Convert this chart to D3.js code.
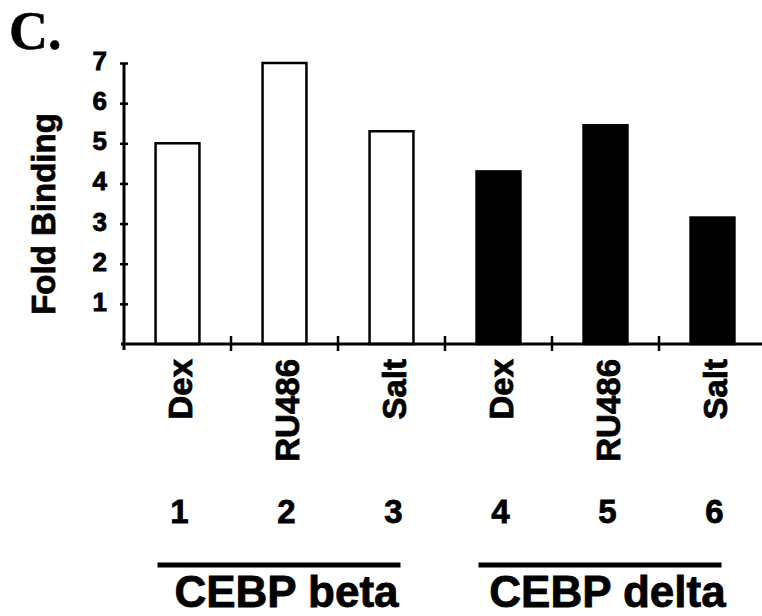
<!DOCTYPE html>
<html>
<head>
<meta charset="utf-8">
<script src="https://cdn.jsdelivr.net/npm/d3@7"></script>
<style>
  body { margin: 0; background: #fff; }
  svg { display: block; }
  text { font-family: "Liberation Sans", Arial, sans-serif; font-weight: bold; fill: #000; stroke: #000; stroke-width: 0.8px; }
</style>
</head>
<body>
<div id="chart"></div>
<script>
// data
const lanes = ["1", "2", "3", "4", "5", "6"];
const treatments = ["Dex", "RU486", "Salt", "Dex", "RU486", "Salt"];
const foldBinding = [5.0, 7.0, 5.3, 4.3, 5.45, 3.15];
const filled = [false, false, false, true, true, true];
const groups = ["CEBP beta", "CEBP delta"];
const groupLanes = [["1", "3"], ["4", "6"]];
const yTicks = [1, 2, 3, 4, 5, 6, 7];

const W = 762, H = 616;
const svg = d3.select("#chart").append("svg").attr("width", W).attr("height", H);

const x = d3.scaleBand().domain(lanes).range([124, 766]).paddingInner(0.59).paddingOuter(0.295);
const y = d3.scaleLinear().domain([0, 7]).range([344, 63]);
const step = x.step();
const cx = d => x(d) + x.bandwidth() / 2;

// panel letter
svg.append("text")
    .attr("x", 9).attr("y", 49)
    .style("font-family", "'Liberation Serif', 'Times New Roman', serif")
    .style("font-size", "54px")
    .style("stroke-width", "0.5px")
    .text("C.");

// bars
svg.append("g").selectAll("rect").data(lanes).enter().append("rect")
    .attr("x", d => x(d))
    .attr("width", x.bandwidth())
    .attr("y", (d, i) => y(foldBinding[i]))
    .attr("height", (d, i) => y(0) - y(foldBinding[i]))
    .attr("fill", (d, i) => filled[i] ? "#000" : "#fff")
    .attr("stroke", "#000").attr("stroke-width", 2.5);

// y axis
const yAxis = svg.append("g").attr("transform", "translate(124,0)")
    .call(d3.axisLeft(y).tickValues(yTicks).tickFormat(d3.format("d")).tickSize(4).tickPadding(13));
yAxis.select(".domain").remove();
yAxis.selectAll(".tick line").attr("x1", 4).attr("stroke-width", 2.5);
yAxis.selectAll(".tick text").style("font-size", "26px").attr("dy", "0.25em")
    .style("font-family", "'Liberation Sans', Arial, sans-serif");
yAxis.append("line")
    .attr("x1", 0).attr("x2", 0).attr("y1", y(7)).attr("y2", y(0) + 6)
    .attr("stroke", "#000").attr("stroke-width", 3);

// x axis baseline and lane separators
svg.append("line")
    .attr("x1", 121).attr("x2", W).attr("y1", y(0)).attr("y2", y(0))
    .attr("stroke", "#000").attr("stroke-width", 3);
svg.append("g").selectAll("line").data(lanes.slice(1)).enter().append("line")
    .attr("x1", d => cx(d) - step / 2).attr("x2", d => cx(d) - step / 2)
    .attr("y1", y(0) - 8).attr("y2", y(0) + 7)
    .attr("stroke", "#000").attr("stroke-width", 2.5);

// y title
svg.append("text")
    .attr("transform", "translate(55,214) rotate(-90)")
    .attr("text-anchor", "middle")
    .style("font-size", "33px")
    .text("Fold Binding");

// treatment labels
svg.append("g").selectAll("text").data(lanes).enter().append("text")
    .attr("transform", d => `translate(${cx(d) + 14},359) rotate(-90)`)
    .attr("text-anchor", "end")
    .style("font-size", "33px")
    .text((d, i) => treatments[i]);

// lane numbers
svg.append("g").selectAll("text").data(lanes).enter().append("text")
    .attr("x", d => cx(d) + 2).attr("y", 523)
    .attr("text-anchor", "middle")
    .style("font-size", "33px")
    .text(d => d);

// group bars + names
groups.forEach((g, i) => {
    const a = cx(groupLanes[i][0]), b = cx(groupLanes[i][1]);
    svg.append("line")
        .attr("x1", a - 20).attr("x2", b + 9).attr("y1", 565).attr("y2", 565)
        .attr("stroke", "#000").attr("stroke-width", 5);
    svg.append("text")
        .attr("x", (a + b) / 2 + 2).attr("y", 607)
        .attr("text-anchor", "middle")
        .style("font-size", "44px")
        .text(g);
});
</script>
</body>
</html>
